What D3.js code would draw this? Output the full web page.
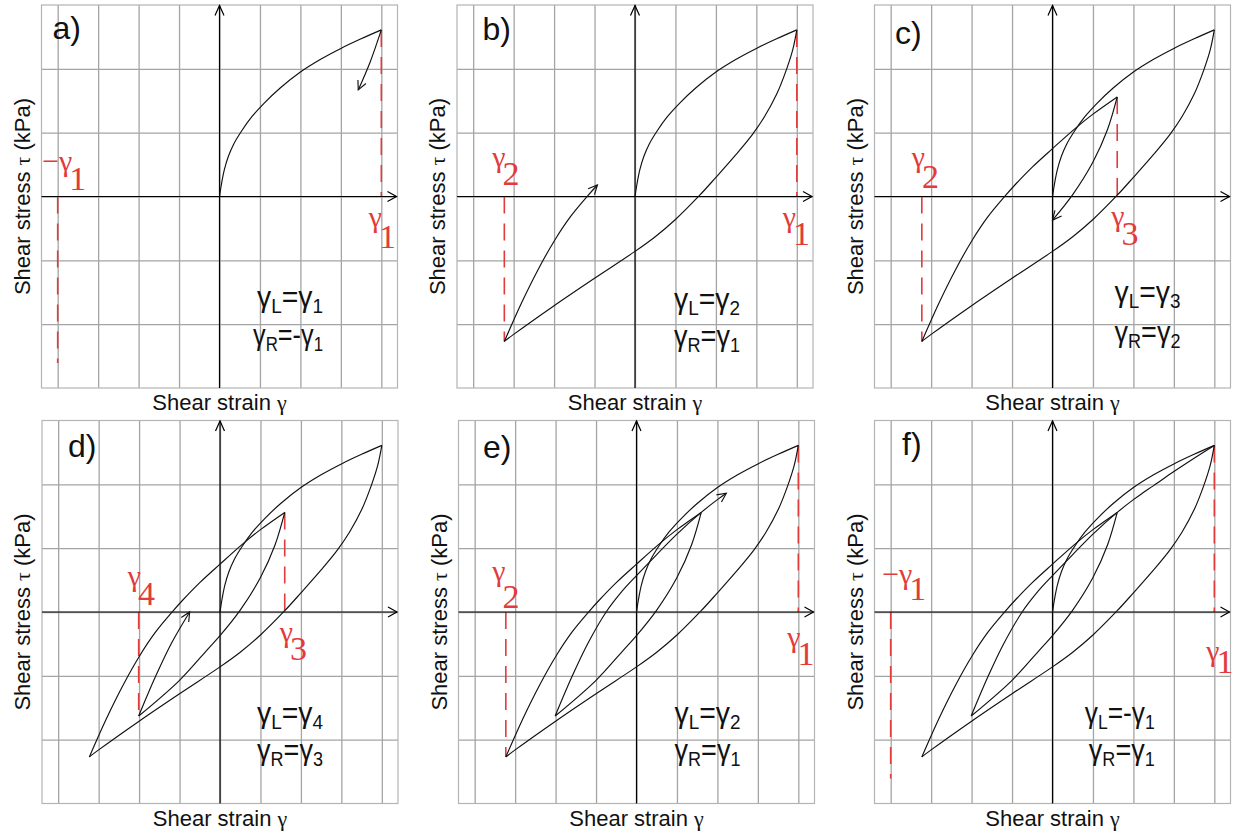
<!DOCTYPE html>
<html><head><meta charset="utf-8">
<script src="https://cdn.jsdelivr.net/npm/d3@7"></script>
<style>body{margin:0;background:#fff}svg{display:block}</style>
</head><body>
<svg id="chart" width="1235" height="833"></svg>
<script>
// ---------------- DATA (strain γ in grid units, stress τ in grid units) ----------------
const xGrid = [-4, -3, -2, -1, 0, 1, 2, 3, 4];
const yGrid = [-2, -1, 0, 1, 2];
const panelLetters = ["a)", "b)", "c)", "d)", "e)", "f)"];

// initial loading (backbone) O -> A
const backbone = [[0,0],[0.05,0.2],[0.12,0.42],[0.22,0.63],[0.35,0.82],[0.55,1.03],[0.8,1.25],[1.1,1.46],[1.5,1.7],[2.0,1.95],[2.5,2.15],[3.0,2.32],[3.5,2.47],[4.0,2.61]];
// unloading A -> B
const unloadA = [[4.0,2.61],[3.9,2.3],[3.75,2.0],[3.5,1.6],[3.2,1.25],[2.9,0.97],[2.5,0.66],[2.0,0.3],[1.6,0.02],[1.0,-0.36],[0.5,-0.63],[0,-0.86],[-1,-1.28],[-2,-1.71],[-3,-2.16],[-3.23,-2.27]];
// reloading B -> C
const reloadB = [[-3.23,-2.27],[-2.8,-1.66],[-2.4,-1.15],[-2.0,-0.7],[-1.6,-0.32],[-1.17,0.01],[-0.93,0.18],[-0.5,0.46],[0,0.75],[0.55,1.06],[1.0,1.29],[1.6,1.56]];
// continuation of reloading C -> A
const reloadCA = [[1.6,1.56],[2.0,1.76],[2.22,1.86],[2.5,1.98],[3.0,2.2],[3.5,2.41],[4.0,2.61]];
// unloading C -> D
const unloadC = [[1.6,1.56],[1.36,1.05],[1.0,0.54],[0.5,0.03],[0,-0.37],[-0.3,-0.58],[-1.0,-1.07],[-2.01,-1.63]];
// reloading D -> C
const reloadD = [[-2.01,-1.63],[-1.6,-1.02],[-1.2,-0.49],[-0.75,0],[-0.35,0.33],[0,0.57],[0.5,0.9],[1.0,1.22],[1.6,1.56]];
// short unloading arrow of panel a)
const arrowA = [[4.0,2.61],[3.72,2.1],[3.43,1.67]];

// reversal points γ1..γ4 and the mirrored -γ1
const revStrain = { g1: 4.0, g2: -3.23, g3: 1.6, g4: -2.01, mg1: -4.0 };
const revStress = { g1: 2.61, g2: -2.27, g3: 1.56, g4: -1.63, mg1: -2.61 };

// γL / γR statements per panel: [sign, index]
const gammaL = [["", "1"], ["", "2"], ["", "3"], ["", "4"], ["", "2"], ["-", "1"]];
const gammaR = [["-", "1"], ["", "1"], ["", "2"], ["", "3"], ["", "1"], ["", "1"]];

// ---------------- LAYOUT ----------------
const W = 356, H = 383;
const panels = [
  { left: 41.5, top: 5, lx: 11, ly: 33.5,
    curves: [{ d: backbone }, { d: arrowA, arrow: true }],
    dashes: ["mg1", "g1"],
    reds: [{ k: "mg1", neg: true, sub: "1", dx: -15.5, dy: -26, ddy: 19.5 }, { k: "g1", sub: "1", dx: -12.5, dy: 30.5, ddy: 21 }],
    eqEnd: 103.5, eqY: [110.2, 148.9] },
  { left: 457, top: 5, lx: 25.5, ly: 35,
    curves: [{ d: backbone }, { d: unloadA }, { d: reloadB.filter(p => p[0] <= -0.93), arrow: true }],
    dashes: ["g2", "g1"],
    reds: [{ k: "g2", sub: "2", dx: -12, dy: -29.5, ddy: 18 }, { k: "g1", sub: "1", dx: -14, dy: 30.5, ddy: 18 }],
    eqEnd: 105, eqY: [112.2, 149.2] },
  { left: 874.5, top: 5, lx: 20.5, ly: 39,
    curves: [{ d: backbone }, { d: unloadA }, { d: reloadB }, { d: unloadC.filter(p => p[0] >= 0), arrow: true }],
    dashes: ["g2", "g3"],
    reds: [{ k: "g2", sub: "2", dx: -10, dy: -29.5, ddy: 21 }, { k: "g3", sub: "3", dx: -6, dy: 29.5, ddy: 19 }],
    eqEnd: 128, eqY: [105.2, 145.2] },
  { left: 42, top: 420.5, lx: 26, ly: 36.2,
    curves: [{ d: backbone }, { d: unloadA }, { d: reloadB }, { d: unloadC }, { d: reloadD.filter(p => p[0] <= -0.75), arrow: true }],
    dashes: ["g4", "g3"],
    reds: [{ k: "g4", sub: "4", dx: -11, dy: -26.3, ddy: 19 }, { k: "g3", sub: "3", dx: -5, dy: 29.7, ddy: 18 }],
    eqEnd: 103, eqY: [111.4, 148.4] },
  { left: 458.5, top: 420.5, lx: 24.5, ly: 37.5,
    curves: [{ d: backbone }, { d: unloadA }, { d: reloadB }, { d: unloadC }, { d: reloadD.concat(reloadCA.slice(1).filter(p => p[0] <= 2.22)), arrow: true }],
    dashes: ["g2", "g1"],
    reds: [{ k: "g2", sub: "2", dx: -13.5, dy: -31.5, ddy: 27 }, { k: "g1", sub: "1", dx: -11, dy: 34.7, ddy: 18 }],
    eqEnd: 104, eqY: [111.4, 148.4] },
  { left: 874.5, top: 420.5, lx: 27.5, ly: 34.5,
    curves: [{ d: backbone }, { d: unloadA }, { d: reloadB }, { d: unloadC }, { d: reloadD.concat(reloadCA.slice(1)) }],
    dashes: ["mg1", "g1"],
    reds: [{ k: "mg1", neg: true, sub: "1", dx: -8.5, dy: -28.3, ddy: 16 }, { k: "g1", sub: "1", dx: -8, dy: 49, ddy: 12 }],
    eqEnd: 102.3, eqY: [111.4, 148.4] }
];

const SANS = "'Liberation Sans', Arial, sans-serif";
const SERIF = "'Liberation Serif', 'Times New Roman', serif";
const RED = "#e23b3b";
const svg = d3.select("#chart");

function arrowHead(g, node, len, ang, color, width) {
  const L = node.getTotalLength();
  const p1 = node.getPointAtLength(L);
  const p0 = node.getPointAtLength(Math.max(0, L - 5));
  const a = Math.atan2(p1.y - p0.y, p1.x - p0.x);
  const pts = [
    [p1.x - len * Math.cos(a - ang), p1.y - len * Math.sin(a - ang)],
    [p1.x, p1.y],
    [p1.x - len * Math.cos(a + ang), p1.y - len * Math.sin(a + ang)]
  ];
  g.append("path").attr("d", d3.line()(pts)).attr("fill", "none")
    .attr("stroke", color).attr("stroke-width", width).attr("stroke-linejoin", "miter");
}

panels.forEach((p, i) => {
  const x = d3.scaleLinear().domain([-4.4, 4.4]).range([p.left, p.left + W]);
  const y = d3.scaleLinear().domain([-3, 3]).range([p.top + H, p.top]);
  const g = svg.append("g");

  // grid via d3 axes
  g.append("g").attr("transform", `translate(0,${p.top + H})`)
    .call(d3.axisBottom(x).tickValues(xGrid).tickSize(-H).tickFormat(""))
    .call(s => s.select(".domain").remove())
    .call(s => s.selectAll("line").attr("stroke", "#a4a4a4").attr("stroke-width", 1.3));
  g.append("g").attr("transform", `translate(${p.left},0)`)
    .call(d3.axisLeft(y).tickValues(yGrid).tickSize(-W).tickFormat(""))
    .call(s => s.select(".domain").remove())
    .call(s => s.selectAll("line").attr("stroke", "#a4a4a4").attr("stroke-width", 1.3));
  g.append("rect").attr("x", p.left).attr("y", p.top).attr("width", W).attr("height", H)
    .attr("fill", "none").attr("stroke", "#b4b4b4").attr("stroke-width", 1.2);

  // red dashed reversal lines
  p.dashes.forEach(k => {
    const s = revStress[k];
    const y0 = s > 0 ? y(s) : y(0), y1 = s > 0 ? y(0) : y(s);
    g.append("line").attr("x1", x(revStrain[k])).attr("x2", x(revStrain[k]))
      .attr("y1", y0).attr("y2", y1)
      .attr("stroke", RED).attr("stroke-width", 1.6).attr("stroke-dasharray", "17,10");
  });

  // axes with arrows
  const ax = g.append("g").attr("stroke", "#000").attr("stroke-width", 1.2).attr("fill", "none");
  ax.append("line").attr("x1", x(-4.4)).attr("x2", x(4.4) - 1).attr("y1", y(0)).attr("y2", y(0));
  ax.append("line").attr("x1", x(0)).attr("x2", x(0)).attr("y1", y(-3)).attr("y2", y(3) + 0.5);
  const xr = x(4.4) - 1, yt = y(3) + 0.5;
  ax.append("path").attr("d", `M${xr - 9},${y(0) - 5}L${xr},${y(0)}L${xr - 9},${y(0) + 5}`);
  ax.append("path").attr("d", `M${x(0) - 4.5},${yt + 10}L${x(0)},${yt}L${x(0) + 4.5},${yt + 10}`);

  // hysteresis curves
  const line = d3.line().x(d => x(d[0])).y(d => y(d[1])).curve(d3.curveCatmullRom.alpha(0.5));
  p.curves.forEach(c => {
    const path = g.append("path").attr("d", line(c.d)).attr("fill", "none")
      .attr("stroke", "#111").attr("stroke-width", 1.15);
    if (c.arrow) arrowHead(g, path.node(), 10, 0.45, "#111", 1.15);
  });

  // red reversal labels
  p.reds.forEach(r => {
    const t = g.append("text").attr("x", x(revStrain[r.k]) + r.dx).attr("y", y(0) + r.dy)
      .attr("font-family", SERIF).attr("fill", RED);
    t.append("tspan").attr("font-size", 30).text((r.neg ? "\u2212" : "") + "\u03b3");
    t.append("tspan").attr("font-size", 34).attr("dx", -3).attr("dy", r.ddy).text(r.sub);
  });

  // panel letter
  g.append("text").attr("x", p.left + p.lx).attr("y", p.top + p.ly)
    .attr("font-family", SANS).attr("font-size", 32).attr("fill", "#111").text(panelLetters[i]);

  // γL / γR statements
  [[gammaL[i], "L"], [gammaR[i], "R"]].forEach(([st, side], j) => {
    const len = st[0] ? 70 : 66;
    const t = g.append("text").attr("x", x(0) + p.eqEnd - len).attr("y", y(0) + p.eqY[j])
      .attr("font-family", SANS).attr("fill", "#111")
      .attr("textLength", len).attr("lengthAdjust", "spacingAndGlyphs");
    t.append("tspan").attr("font-size", 30).text("\u03b3");
    t.append("tspan").attr("font-size", 20).attr("dy", 6).text(side);
    t.append("tspan").attr("font-size", 30).attr("dy", -6).text("=" + st[0] + "\u03b3");
    t.append("tspan").attr("font-size", 20).attr("dy", 6).text(st[1]);
  });

  // axis titles
  const xt = g.append("text").attr("x", x(0)).attr("y", p.top + H + 22)
    .attr("text-anchor", "middle").attr("font-family", SANS).attr("font-size", 22).attr("fill", "#111");
  xt.append("tspan").text("Shear strain ");
  xt.append("tspan").attr("font-family", SERIF).text("\u03b3");

  const yt2 = g.append("text").attr("transform", `translate(${p.left - 11.7},${y(0)}) rotate(-90)`)
    .attr("text-anchor", "middle").attr("font-family", SANS).attr("font-size", 22).attr("fill", "#111");
  yt2.append("tspan").text("Shear stress ");
  yt2.append("tspan").attr("font-family", SERIF).text("\u03c4");
  yt2.append("tspan").text(" (kPa)");
});
</script>
</body></html>
